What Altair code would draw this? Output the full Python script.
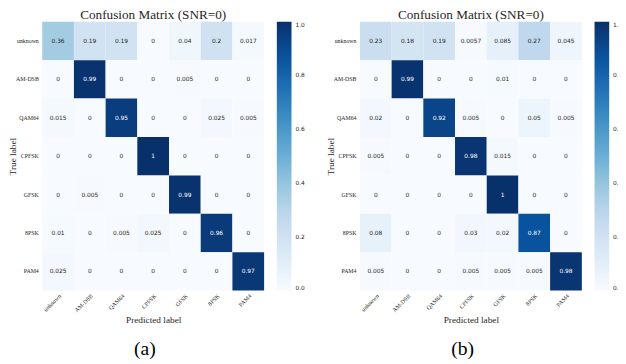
import altair as alt
import pandas as pd

labels = ["unknown", "AM-DSB", "QAM64", "CPFSK", "GFSK", "8PSK", "PAM4"]

# rows = true label, columns = predicted label
vals_a = [
    [0.36, 0.19, 0.19, 0, 0.04, 0.2, 0.017],
    [0, 0.99, 0, 0, 0.005, 0, 0],
    [0.015, 0, 0.95, 0, 0, 0.025, 0.005],
    [0, 0, 0, 1, 0, 0, 0],
    [0, 0.005, 0, 0, 0.99, 0, 0],
    [0.01, 0, 0.005, 0.025, 0, 0.96, 0],
    [0.025, 0, 0, 0, 0, 0, 0.97],
]
vals_b = [
    [0.23, 0.18, 0.19, 0.0057, 0.085, 0.27, 0.045],
    [0, 0.99, 0, 0, 0.01, 0, 0],
    [0.02, 0, 0.92, 0.005, 0, 0.05, 0.005],
    [0.005, 0, 0, 0.98, 0.015, 0, 0],
    [0, 0, 0, 0, 1, 0, 0],
    [0.08, 0, 0, 0.03, 0.02, 0.87, 0],
    [0.005, 0, 0, 0.005, 0.005, 0.005, 0.98],
]
title_text = "Confusion Matrix (SNR=0)"
captions = ["(a)", "(b)"]
cbar_ticks = [0.0, 0.2, 0.4, 0.6, 0.8, 1.0]

# matplotlib "Blues" colormap stops
blues_stops = [0, 0.125, 0.25, 0.375, 0.5, 0.625, 0.75, 0.875, 1.0]
blues_colors = ["#f7fbff", "#deebf7", "#c6dbef", "#9ecae1", "#6baed6",
                "#4292c6", "#2171b5", "#08519c", "#08306b"]

SERIF = "Liberation Serif"
SANS = "DejaVu Sans"
INK = "#262626"


def panel(vals, caption):
    rows = []
    for i, t in enumerate(labels):
        for j, p in enumerate(labels):
            rows.append({"true": t, "pred": p, "v": vals[i][j]})
    df = pd.DataFrame(rows)
    base = alt.Chart(df).encode(
        x=alt.X("pred:N", sort=labels,
                scale=alt.Scale(paddingInner=0, paddingOuter=0),
                axis=alt.Axis(title="Predicted label", titleFont=SERIF, titleFontSize=9.5,
                              titleFontWeight="normal", titleColor=INK,
                              labelFont=SERIF, labelFontSize=6, labelColor=INK,
                              labelAngle=315, labelAlign="right", labelBaseline="top",
                              ticks=False, tickSize=0, domain=False, grid=False,
                              labelPadding=2, titlePadding=2)),
        y=alt.Y("true:N", sort=labels,
                scale=alt.Scale(paddingInner=0, paddingOuter=0),
                axis=alt.Axis(title="True label", titleFont=SERIF, titleFontSize=9.5,
                              titleFontWeight="normal", titleColor=INK,
                              labelFont=SERIF, labelFontSize=6, labelColor=INK,
                              ticks=False, tickSize=0, domain=False, grid=False,
                              labelPadding=4, titlePadding=-2)),
    )
    rect = base.mark_rect().encode(
        color=alt.Color("v:Q",
                        scale=alt.Scale(domain=blues_stops, range=blues_colors),
                        legend=alt.Legend(title=None, orient="right", direction="vertical",
                                          gradientLength=275, gradientThickness=15,
                                          gradientStrokeWidth=0, offset=13,
                                          values=cbar_ticks, format=".1f",
                                          labelFont=SANS, labelFontSize=6,
                                          labelColor=INK, labelOffset=4))
    )
    text = base.mark_text(font=SANS, fontSize=6).encode(
        text=alt.Text("v:Q", format=".2~g"),
        color=alt.condition(alt.datum.v > 0.5, alt.value("white"), alt.value(INK)),
    )
    cap = alt.Chart(pd.DataFrame({"c": [caption]})).mark_text(
        font=SERIF, fontSize=20, baseline="top", align="center", color="black"
    ).encode(text="c:N", x=alt.value(105), y=alt.value(325))
    return alt.layer(rect, text, cap).properties(
        width=227, height=275,
        title=alt.Title(title_text, font=SERIF, fontSize=13.5, fontWeight="normal",
                        color=INK, offset=0),
    )


chart = alt.hconcat(panel(vals_a, captions[0]), panel(vals_b, captions[1]), spacing=20).resolve_scale(
    color="independent"
).configure_view(stroke=None).properties(
    background="white", padding={"top": -4, "left": -1, "right": -5, "bottom": 0}
)

chart.save("out.html", embed_options={"renderer": "svg", "actions": False})
